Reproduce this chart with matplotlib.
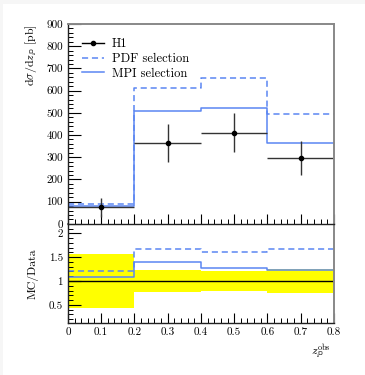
import numpy as np
import matplotlib
matplotlib.use("Agg")
import matplotlib.pyplot as plt
from matplotlib.ticker import MultipleLocator
from matplotlib.patches import Rectangle
from matplotlib.lines import Line2D

plt.rcParams["font.family"] = "cmr10"
plt.rcParams["mathtext.fontset"] = "cm"
plt.rcParams["axes.formatter.use_mathtext"] = True

# bins in z_P^obs
bin_edges = [0.0, 0.2, 0.4, 0.6, 0.8]
bin_centres = [0.1, 0.3, 0.5, 0.7]
x_ticks = [0, 0.1, 0.2, 0.3, 0.4, 0.5, 0.6, 0.7, 0.8]
x_ticklabels = ["0", "0.1", "0.2", "0.3", "0.4", "0.5", "0.6", "0.7", "0.8"]

# H1 data [pb]
h1_xsec = [75, 365, 410, 297]
h1_err = [43, 85, 88, 75]

# MC predictions [pb]
pdf_sel = [90, 612, 657, 495]
mpi_sel = [81, 508, 522, 365]

blue = "#5b86f2"

fig = plt.figure(figsize=(3.65, 3.75), dpi=100)
fig.patch.set_facecolor("#f6f6f6")
fig.add_artist(Rectangle((3 / 365, 0), 1, 1 - 4 / 375, transform=fig.transFigure,
                         facecolor="white", edgecolor="none", zorder=-10))

ax2 = fig.add_axes([0.186, 0.139, 0.729, 0.264])
ax1 = fig.add_axes([0.186, 0.403, 0.729, 0.533])
ax1.set_zorder(3)


def step(vals):
    return np.append(vals, vals[-1])


ax1.step(bin_edges, step(pdf_sel), where="post", color=blue, ls=(0, (4, 2.5)), lw=1.1)
ax1.step(bin_edges, step(mpi_sel), where="post", color=blue, lw=1.1)
ax1.errorbar(bin_centres, h1_xsec, yerr=h1_err, xerr=0.1, fmt="o", ms=3, color="black",
             ecolor="#333333", elinewidth=1.0, capsize=0)

handles = [
    Line2D([], [], color="black", marker="o", ms=3, lw=1.0),
    Line2D([], [], color=blue, ls=(0, (4, 2.5)), lw=1.1),
    Line2D([], [], color=blue, lw=1.1),
]
ax1.legend(handles, ["H1", "PDF selection", "MPI selection"], loc="upper left",
           bbox_to_anchor=(0.01, 0.985), frameon=False, fontsize=9, handlelength=1.8,
           labelspacing=0.2, handletextpad=0.6)

ax1.set_xlim(0, 0.8)
ax1.set_ylim(0, 900)
ax1.set_ylabel(r"d$\sigma$/d$z_{\mathbb{P}}$ [pb]", fontsize=8.5, ha="right")
ax1.set_yticks(range(0, 901, 100))
ax1.set_yticklabels([str(v) for v in range(0, 901, 100)])
ax1.yaxis.set_minor_locator(MultipleLocator(20))
ax1.set_xticks(x_ticks)
ax1.set_xticklabels([])

# ratio panel
ratio_err = np.array(h1_err) / np.array(h1_xsec)
ax2.fill_between(bin_edges, step(1 - ratio_err), step(1 + ratio_err), step="post",
                 color="#ffff00", lw=0)
ax2.axhline(1, color="black", lw=1.0)
ax2.step(bin_edges, step(np.array(pdf_sel) / np.array(h1_xsec)), where="post", color=blue,
         ls=(0, (4, 2.5)), lw=1.1)
ax2.step(bin_edges, step(np.array(mpi_sel) / np.array(h1_xsec)), where="post", color=blue,
         lw=1.1)

ax2.set_xlim(0, 0.8)
ax2.set_ylim(0.12, 2.2)
ax2.set_ylabel("MC/Data", fontsize=8.5)
ax2.yaxis.set_minor_locator(MultipleLocator(0.1))
ax2.set_yticks([0.5, 1, 1.5, 2])
ax2.set_yticklabels(["0.5", "1", "1.5", "2"])
ax2.set_xticks(x_ticks)
ax2.set_xticklabels(x_ticklabels)
ax2.set_xlabel(r"$z_{\mathbb{P}}^{\mathrm{obs}}$", fontsize=8.5)
ax2.xaxis.set_label_coords(0.95, -0.2)

for ax in (ax1, ax2):
    ax.xaxis.set_minor_locator(MultipleLocator(0.02))
    ax.tick_params(which="both", direction="in", top=False, right=False, labelsize=8)
    ax.tick_params(which="major", length=7, width=0.8)
    ax.tick_params(which="minor", length=3.5, width=0.7)
    ax.tick_params(axis="y", which="major", length=9)
    for side in ("top", "right"):
        ax.spines[side].set_color("#888888")
        ax.spines[side].set_linewidth(1.4)
    for side in ("left", "bottom"):
        ax.spines[side].set_color("#222222")
        ax.spines[side].set_linewidth(1.0)

ax1.yaxis.set_label_coords(-0.11, 1.0)
ax2.yaxis.set_label_coords(-0.11, 0.5)

fig.savefig("out.png", dpi=100, facecolor=fig.get_facecolor())
